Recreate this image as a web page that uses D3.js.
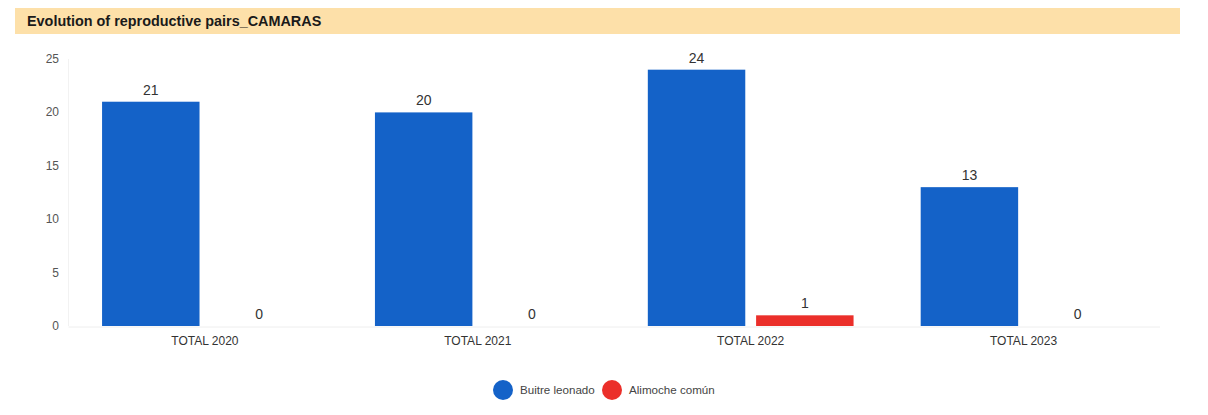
<!DOCTYPE html>
<html>
<head>
<meta charset="utf-8">
<script src="https://cdn.jsdelivr.net/npm/d3@7"></script>
<style>
  body { margin: 0; background: #ffffff; }
  svg { display: block; font-family: Arial, "Liberation Sans", sans-serif; }
</style>
</head>
<body>
<div id="chart"></div>
<script>
// Data
var categories = ["TOTAL 2020", "TOTAL 2021", "TOTAL 2022", "TOTAL 2023"];
var seriesNames = ["Buitre leonado", "Alimoche común"];
var buitre = [21, 20, 24, 13];
var alimoche = [0, 0, 1, 0];
var yTicks = [0, 5, 10, 15, 20, 25];
var colors = ["#1462c8", "#eb2f2a"];

var width = 1208, height = 415;
var margin = {left: 68.5, right: 48};

var svg = d3.select("#chart").append("svg")
    .attr("width", width)
    .attr("height", height);

// Title bar
svg.append("rect")
    .attr("x", 15).attr("y", 8)
    .attr("width", 1165).attr("height", 26)
    .style("fill", "#fde0a9");
svg.append("text")
    .attr("x", 27).attr("y", 26)
    .style("font-size", "14.4px")
    .style("font-weight", "bold")
    .style("fill", "#1a1a1a")
    .text("Evolution of reproductive pairs_CAMARAS");

var x0 = d3.scaleBand()
    .domain(categories)
    .range([margin.left, width - margin.right]);

var x1 = d3.scaleBand()
    .domain(seriesNames)
    .range([0, x0.bandwidth()])
    .paddingInner(0.1)
    .paddingOuter(0.31);

var y = d3.scaleLinear()
    .domain([0, 25])
    .range([326, 59]);

// Y axis labels
svg.append("g")
    .selectAll("text")
    .data(yTicks)
    .join("text")
    .attr("x", 59)
    .attr("y", d => y(d) + 4)
    .attr("text-anchor", "end")
    .style("font-size", "12px")
    .style("fill", "#555")
    .text(d => d);

// faint y axis line
svg.append("line")
    .attr("x1", x0.range()[0]).attr("x2", x0.range()[0])
    .attr("y1", y(25)).attr("y2", y(0))
    .style("stroke", "#f2f2f2");

// baseline
svg.append("line")
    .attr("x1", x0.range()[0]).attr("x2", x0.range()[1])
    .attr("y1", y(0) + 1).attr("y2", y(0) + 1)
    .style("stroke", "#eeeeee");

var rows = categories.map((c, i) => ({cat: c, values: [buitre[i], alimoche[i]]}));

var groups = svg.append("g")
    .selectAll("g")
    .data(rows)
    .join("g")
    .attr("transform", d => "translate(" + x0(d.cat) + ",0)");

groups.selectAll("rect")
    .data(d => d.values.map((v, j) => ({name: seriesNames[j], v: v, j: j})))
    .join("rect")
    .attr("x", d => x1(d.name))
    .attr("width", x1.bandwidth())
    .attr("y", d => y(d.v))
    .attr("height", d => y(0) - y(d.v))
    .style("fill", d => colors[d.j]);

groups.selectAll("text.val")
    .data(d => d.values.map((v, j) => ({name: seriesNames[j], v: v, j: j})))
    .join("text")
    .attr("class", "val")
    .attr("x", d => x1(d.name) + x1.bandwidth() / 2)
    .attr("y", d => y(d.v) - 7)
    .attr("text-anchor", "middle")
    .style("font-size", "14px")
    .style("fill", "#333")
    .text(d => d.v);

// Category labels
svg.append("g")
    .selectAll("text")
    .data(categories)
    .join("text")
    .attr("x", d => x0(d) + x0.bandwidth() / 2)
    .attr("y", 345)
    .attr("text-anchor", "middle")
    .style("font-size", "12px")
    .style("fill", "#333")
    .text(d => d);

// Legend
var legend = svg.append("g")
    .attr("transform", "translate(503,390)");
var legendX = [0, 109];
seriesNames.forEach(function (name, i) {
    var item = legend.append("g")
        .attr("transform", "translate(" + legendX[i] + ",0)");
    item.append("circle")
        .attr("r", 10)
        .style("fill", colors[i]);
    item.append("text")
        .attr("x", 17)
        .attr("y", 4)
        .style("font-size", "11.6px")
        .style("fill", "#444")
        .text(name);
});
</script>
</body>
</html>
